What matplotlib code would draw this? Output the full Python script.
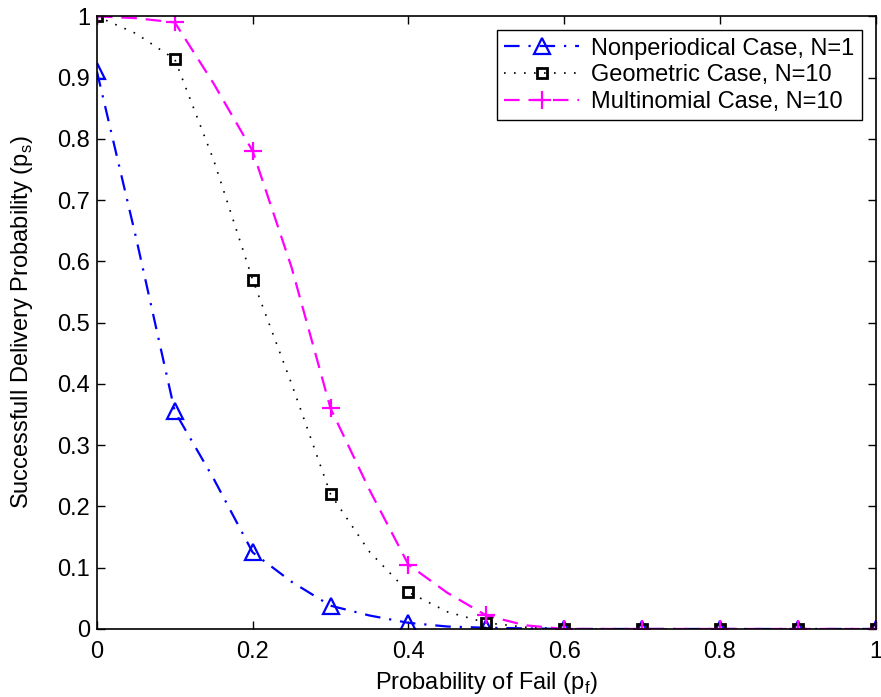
import matplotlib
matplotlib.use("Agg")
import matplotlib.pyplot as plt

plt.rcParams['font.family'] = ['Liberation Sans', 'DejaVu Sans']

# marker samples (every 0.1)
pf = [0.0, 0.1, 0.2, 0.3, 0.4, 0.5, 0.6, 0.7, 0.8, 0.9, 1.0]
ps_nonper = [0.91, 0.355, 0.125, 0.038, 0.01, 0.002, 0.0, 0.0, 0.0, 0.0, 0.0]
ps_geom = [1.0, 0.93, 0.57, 0.22, 0.06, 0.01, 0.0, 0.0, 0.0, 0.0, 0.0]
ps_multi = [1.0, 0.99, 0.78, 0.36, 0.105, 0.022, 0.0, 0.0, 0.0, 0.0, 0.0]

# curve samples (every 0.05)
pf_line = [0.0, 0.05, 0.1, 0.15, 0.2, 0.25, 0.3, 0.35, 0.4, 0.45, 0.5,
           0.55, 0.6, 0.7, 0.8, 0.9, 1.0]
line_nonper = [0.91, 0.64, 0.355, 0.245, 0.125, 0.077, 0.038, 0.022, 0.01,
               0.004, 0.002, 0.001, 0.0, 0.0, 0.0, 0.0, 0.0]
line_geom = [1.0, 0.972, 0.93, 0.765, 0.57, 0.40, 0.22, 0.126, 0.06,
             0.028, 0.01, 0.003, 0.0, 0.0, 0.0, 0.0, 0.0]
line_multi = [1.0, 0.997, 0.99, 0.89, 0.78, 0.59, 0.36, 0.227, 0.105,
              0.059, 0.022, 0.006, 0.0, 0.0, 0.0, 0.0, 0.0]

labels = ['Nonperiodical Case, N=1', 'Geometric Case, N=10', 'Multinomial Case, N=10']

blue_ls = (0, (7, 4, 1, 4))
black_ls = (0, (1, 5))
mag_ls = (0, (7, 4))

fig = plt.figure(figsize=(8.81, 6.97), dpi=100)
ax = fig.add_axes([0.110, 0.0976, 0.884, 0.879])

ax.plot(pf_line, line_nonper, color='#0000ff', ls=blue_ls, lw=1.6)
ax.plot(pf_line, line_geom, color='black', ls=black_ls, lw=1.2)
ax.plot(pf_line, line_multi, color='#ff00ff', ls=mag_ls, lw=1.6)

ax.plot(pf, ps_nonper, ls='none', marker='^', ms=11, mfc='none', mec='#0000ff', mew=1.6)
ax.plot(pf, ps_geom, ls='none', marker='s', ms=7, mfc='none', mec='black', mew=2.0)
ax.plot(pf, ps_multi, ls='none', marker='+', ms=13, mec='#ff00ff', mew=1.6)

# legend proxies
h1, = ax.plot([], [], color='#0000ff', ls=blue_ls, lw=1.6, marker='^', ms=11, mfc='none', mew=1.6)
h2, = ax.plot([], [], color='black', ls=black_ls, lw=1.2, marker='s', ms=7, mfc='none', mew=2.0)
h3, = ax.plot([], [], color='#ff00ff', ls=mag_ls, lw=1.6, marker='+', ms=13, mew=1.6)
leg = ax.legend([h1, h2, h3], labels, loc='upper right', fontsize=17,
                fancybox=False, edgecolor='black', framealpha=1,
                handlelength=3.2, handletextpad=0.5, borderaxespad=0.6,
                labelspacing=0.2, borderpad=0.3)
leg.get_frame().set_linewidth(1.0)

ax.set_xlim(0, 1)
ax.set_ylim(0, 1)
ax.set_xticks([0, 0.2, 0.4, 0.6, 0.8, 1.0])
ax.set_xticklabels(['0', '0.2', '0.4', '0.6', '0.8', '1'])
ax.set_yticks([i / 10 for i in range(11)])
ax.set_yticklabels(['0'] + ['0.%d' % i for i in range(1, 10)] + ['1'])
ax.tick_params(direction='in', top=True, right=True, labelsize=17, length=6, width=1)
ax.tick_params(axis='x', pad=9)
ax.tick_params(axis='y', pad=5)
for s in ax.spines.values():
    s.set_linewidth(1.2)

ax.set_xlabel('Probability of Fail (p$_\\mathregular{f}$)', fontsize=17, labelpad=5)
ax.set_ylabel('Successfull Delivery Probability (p$_\\mathregular{s}$)', fontsize=17, labelpad=16)

fig.savefig('out.png', dpi=100)
